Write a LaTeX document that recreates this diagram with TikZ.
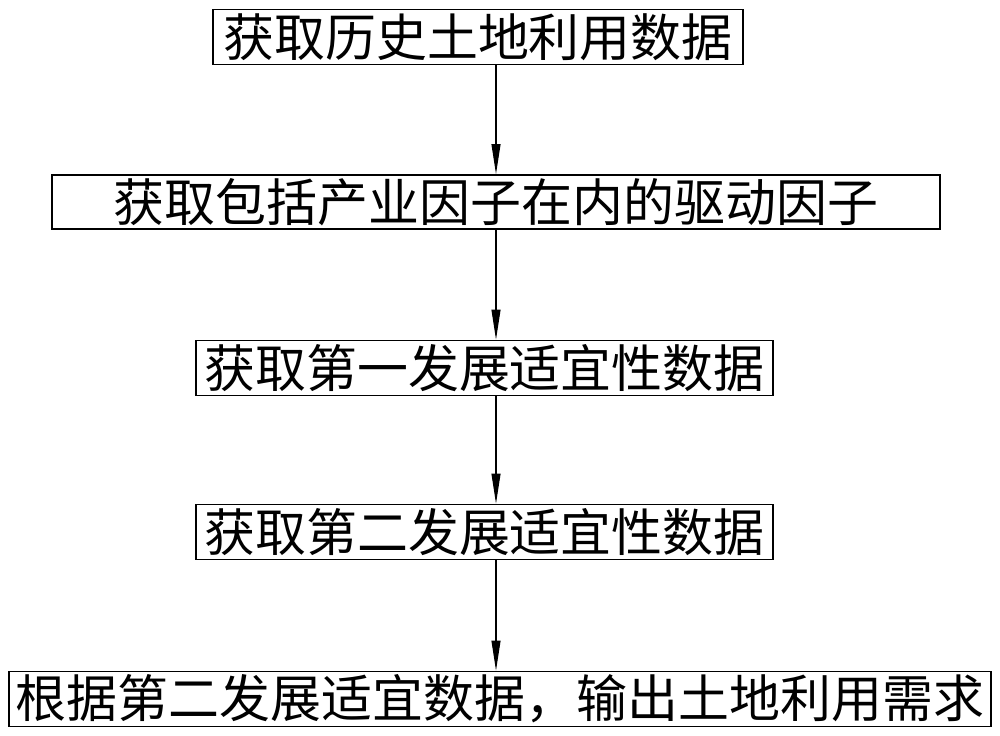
\documentclass[tikz,border=0pt]{standalone}
\usepackage{fontspec}
\newfontfamily\cjk{Noto Sans CJK SC}
\usepackage{tikz}
\usetikzlibrary{arrows.meta,positioning,calc}

\begin{document}
\begin{tikzpicture}[x=0.02cm,y=-0.02cm,
  stepbox/.style={draw,line width=1.1pt,inner sep=0pt,minimum height=1.1cm,font=\cjk\fontsize{29}{29}\selectfont},
  flow/.style={-{Triangle[length=0.6cm,width=0.18cm]},line width=0.6pt}]
\useasboundingbox (0,0) rectangle (1000,736);
\coordinate (ax) at (496,0);
\node[stepbox,minimum width=10.6cm] (hist) at (478,37) {获取历史土地利用数据};
\node[stepbox,minimum width=17.76cm,minimum height=1.08cm] (drive) at (496,202) {获取包括产业因子在内的驱动因子};
\node[stepbox,minimum width=11.54cm] (suitA) at (484.5,368) {获取第一发展适宜性数据};
\node[stepbox,minimum width=11.54cm] (suitB) at (484.5,532) {获取第二发展适宜性数据};
\node[stepbox,minimum width=19.64cm] (demand) at (500,699) {根据第二发展适宜数据，输出土地利用需求};
\draw[flow] (hist.south -| ax) -- (drive.north -| ax);
\draw[flow] (drive.south -| ax) -- (suitA.north -| ax);
\draw[flow] (suitA.south -| ax) -- (suitB.north -| ax);
\draw[flow] (suitB.south -| ax) -- (demand.north -| ax);
\end{tikzpicture}
\end{document}
